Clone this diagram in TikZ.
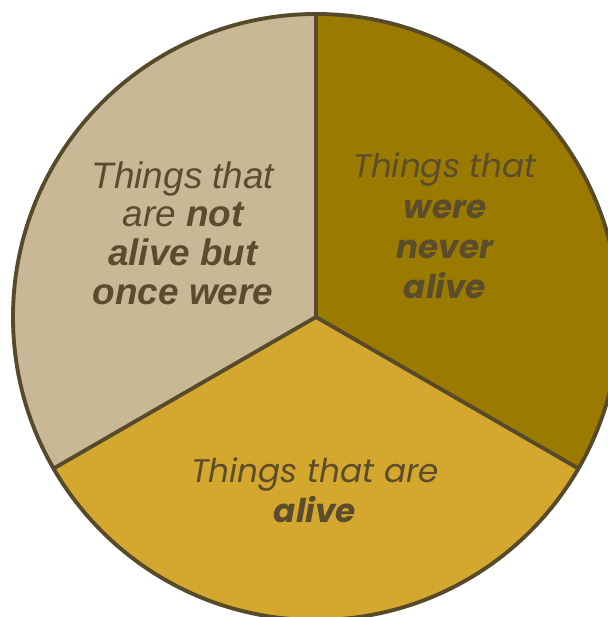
\documentclass[tikz,border=0pt]{standalone}
\usepackage{fontspec}
\setmainfont{Liberation Sans}
\newfontfamily\gothicfont{Poppins}
\usetikzlibrary{positioning}
\definecolor{pieborder}{RGB}{87, 74, 42}
\definecolor{pietext}{RGB}{90, 76, 44}
\definecolor{onceslice}{RGB}{200, 184, 150}
\definecolor{neverslice}{RGB}{154, 123, 0}
\definecolor{aliveslice}{RGB}{212, 167, 46}

\begin{document}
\begin{tikzpicture}[
    x=0.02cm, y=-0.02cm,
    slice/.style={draw=pieborder, line width=2.2pt, line join=round},
    arialtext/.style={align=center, text=pietext, font=\fontsize{21}{22}\selectfont\itshape},
    gothictext/.style={align=center, text=pietext, font=\gothicfont\fontsize{18.6}{23}\selectfont\itshape}
]
    \useasboundingbox (0,0) rectangle (607,617);
    \coordinate (centre) at (316,317);
    \coordinate (top) at (316,14);
    \coordinate (lowleft) at (53.6,468.5);
    \coordinate (lowright) at (578.4,468.5);

    % Slices
    \fill[onceslice] (centre) -- (top) arc[start angle=-90, end angle=-210, radius=303] -- cycle;
    \fill[neverslice] (centre) -- (top) arc[start angle=-90, end angle=30, radius=303] -- cycle;
    \fill[aliveslice] (centre) -- (lowright) arc[start angle=30, end angle=150, radius=303] -- cycle;
    \draw[slice] (centre) circle[radius=303];
    \draw[slice] (centre) -- (top);
    \draw[slice] (centre) -- (lowleft);
    \draw[slice] (centre) -- (lowright);

    % Labels
    \node[arialtext] (once) at (183,233) {Things that\\are \textbf{not}\\\textbf{alive but}\\\textbf{once were}};
    \node[gothictext] (never) at (445,226) {Things that\\\textbf{were}\\\textbf{never}\\\textbf{alive}};
    \node[gothictext] (alive) at (315,490) {Things that are\\\textbf{alive}};
\end{tikzpicture}
\end{document}
